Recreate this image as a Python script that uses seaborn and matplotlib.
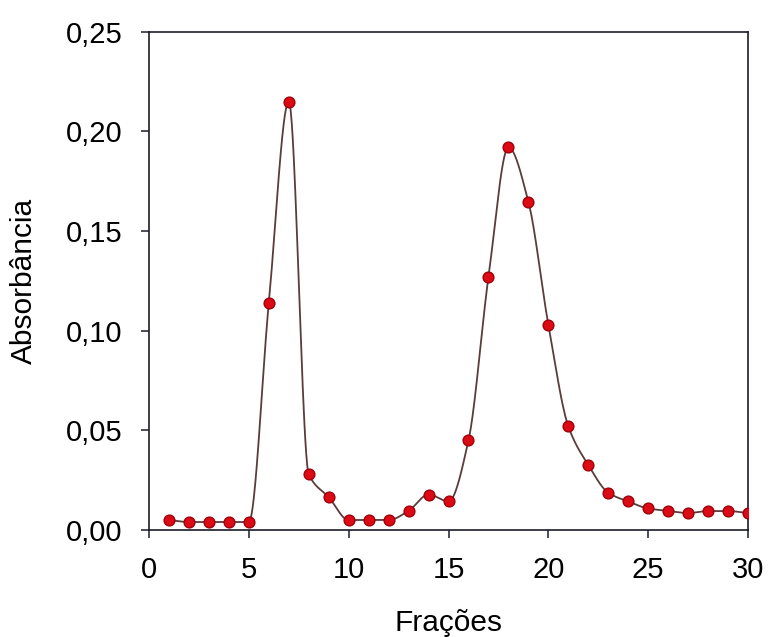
import numpy as np
import pandas as pd
import matplotlib
matplotlib.use("Agg")
import matplotlib.pyplot as plt
import seaborn as sns

# Elution profile: absorbance per collected fraction
fractions = [1, 2, 3, 4, 5, 6, 7, 8, 9, 10,
             11, 12, 13, 14, 15, 16, 17, 18, 19, 20,
             21, 22, 23, 24, 25, 26, 27, 28, 29, 30]
absorbance = [0.005, 0.004, 0.004, 0.004, 0.004, 0.114, 0.215, 0.028, 0.0165, 0.005,
              0.005, 0.005, 0.0096, 0.0178, 0.0143, 0.045, 0.127, 0.192, 0.1647, 0.103,
              0.052, 0.0326, 0.0187, 0.0143, 0.0108, 0.0096, 0.0085, 0.0095, 0.0095, 0.0085]

x_ticks = [0, 5, 10, 15, 20, 25, 30]
x_tick_labels = ["0", "5", "10", "15", "20", "25", "30"]
y_ticks = [0.00, 0.05, 0.10, 0.15, 0.20, 0.25]
y_tick_labels = ["0,00", "0,05", "0,10", "0,15", "0,20", "0,25"]
x_label = "Frações"
y_label = "Absorbância"


def pchip_curve(x, y, n_per_seg=40):
    """Shape-preserving piecewise cubic Hermite curve through (x, y)."""
    x = np.asarray(x, float)
    y = np.asarray(y, float)
    h = np.diff(x)
    d = np.diff(y) / h
    m = np.zeros_like(y)
    for k in range(1, len(x) - 1):
        if d[k - 1] * d[k] > 0:
            w1 = 2 * h[k] + h[k - 1]
            w2 = h[k] + 2 * h[k - 1]
            m[k] = (w1 + w2) / (w1 / d[k - 1] + w2 / d[k])
    m[0] = d[0]
    m[-1] = d[-1]
    xs, ys = [], []
    for k in range(len(x) - 1):
        t = np.linspace(0, 1, n_per_seg, endpoint=False)
        h00 = 2 * t**3 - 3 * t**2 + 1
        h10 = t**3 - 2 * t**2 + t
        h01 = -2 * t**3 + 3 * t**2
        h11 = t**3 - t**2
        xs.append(x[k] + t * h[k])
        ys.append(h00 * y[k] + h10 * h[k] * m[k] + h01 * y[k + 1] + h11 * h[k] * m[k + 1])
    xs.append([x[-1]])
    ys.append([y[-1]])
    return np.concatenate(xs), np.concatenate(ys)


points = pd.DataFrame({"fracao": fractions, "abs": absorbance})
cx, cy = pchip_curve(fractions, absorbance)
curve = pd.DataFrame({"fracao": cx, "abs": cy})

sns.set_theme(style="white")
plt.rcParams["font.family"] = ["Liberation Sans", "DejaVu Sans"]

fig = plt.figure(figsize=(7.7, 6.37), dpi=100)
ax = fig.add_axes([0.1935, 0.168, 0.778, 0.782])

sns.lineplot(data=curve, x="fracao", y="abs", ax=ax, sort=False, estimator=None,
             color="#5a3c3c", linewidth=1.3, zorder=2)
sns.scatterplot(data=points, x="fracao", y="abs", ax=ax, s=60,
                color="#dc0a14", edgecolor="#a00008", linewidth=1.0, zorder=3)

ax.set_xlim(0, 30)
ax.set_ylim(0, 0.25)
ax.set_xticks(x_ticks)
ax.set_xticklabels(x_tick_labels)
ax.set_yticks(y_ticks)
ax.set_yticklabels(y_tick_labels)

for side in ["left", "right", "top", "bottom"]:
    ax.spines[side].set_visible(True)
    ax.spines[side].set_color("#1c1c2a")
    ax.spines[side].set_linewidth(1.2)

ax.tick_params(axis="both", which="major", direction="out", length=6,
               width=1.1, color="#1c1c2a", labelsize=21, pad=13,
               labelcolor="#000000")
ax.tick_params(axis="both", bottom=True, left=True, top=False, right=False)

ax.set_xlabel(x_label, fontsize=21.5, color="#000000", labelpad=18)
ax.set_ylabel(y_label, fontsize=21.5, color="#000000", labelpad=20)

fig.savefig("out.png", dpi=100, facecolor="white")
